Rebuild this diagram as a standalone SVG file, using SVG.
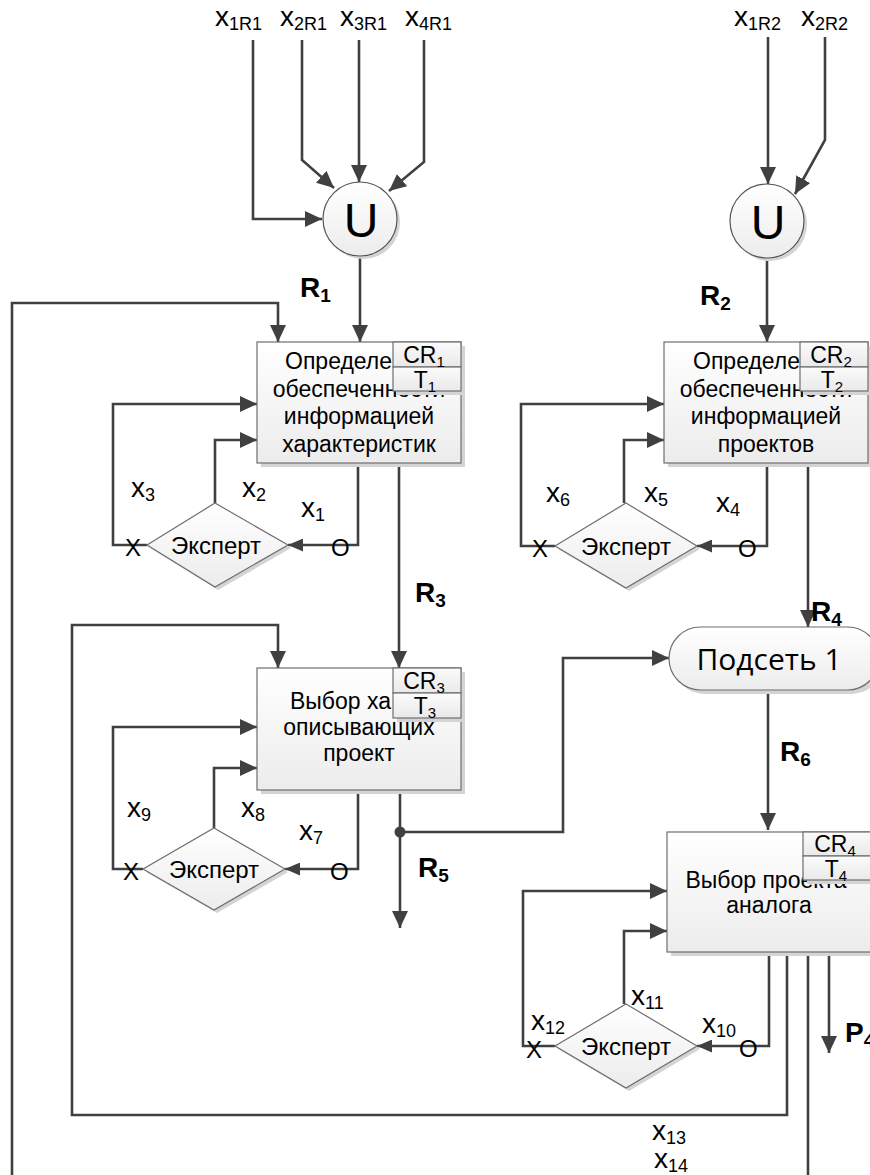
<svg xmlns="http://www.w3.org/2000/svg" width="870" height="1175" viewBox="0 0 870 1175">
<defs>
<linearGradient id="gBox" x1="0" y1="0" x2="0" y2="1"><stop offset="0" stop-color="#ffffff"/><stop offset="1" stop-color="#ececec"/></linearGradient>
<linearGradient id="gSub" x1="0" y1="0" x2="0" y2="1"><stop offset="0" stop-color="#fbfbfb"/><stop offset="1" stop-color="#e9e9e9"/></linearGradient>
<marker id="ar" markerUnits="userSpaceOnUse" markerWidth="17" markerHeight="16" refX="17" refY="8" orient="auto"><path d="M0,0 L17,8 L0,16 z" fill="#404040"/></marker>
<marker id="ars" markerUnits="userSpaceOnUse" markerWidth="15" markerHeight="13" refX="15" refY="6.5" orient="auto"><path d="M0,0 L15,6.5 L0,13 z" fill="#404040"/></marker>
</defs>
<style>
.ln{fill:none;stroke:#404040;stroke-width:2.6}
.box{fill:url(#gBox);stroke:#6e6e6e;stroke-width:1.2}
.sub{fill:url(#gSub);stroke:#6e6e6e;stroke-width:1.2}
.sh{fill:#d4d4d4}
.t{font-family:"Liberation Sans",Arial,sans-serif;fill:#000}
.bt{font-size:23px;text-anchor:middle}
.bs{font-size:23px}
.ex{font-size:24px;text-anchor:middle}
.lb{font-size:28px}
.rb{font-size:28px;font-weight:bold}
.cr{font-size:23px;text-anchor:middle}
.mk{font-size:24px}
.dia{fill:url(#gBox);stroke:#6e6e6e;stroke-width:1.2}
.cir{fill:url(#gBox);stroke:#555;stroke-width:1.2}
</style>
<rect width="870" height="1175" fill="#ffffff"/>

<g id="connectors">
<path class="ln" d="M253,40 V219 H322" marker-end="url(#ar)"/>
<path class="ln" d="M302,40 V160 L334,188" marker-end="url(#ar)"/>
<path class="ln" d="M359,40 V182" marker-end="url(#ar)"/>
<path class="ln" d="M424,40 V162 L389,191" marker-end="url(#ar)"/>
<path class="ln" d="M768,37 V184" marker-end="url(#ar)"/>
<path class="ln" d="M825,37 V140 L795,194" marker-end="url(#ar)"/>
<path class="ln" d="M360,256 V342" marker-end="url(#ar)"/>
<path class="ln" d="M767,258 V342" marker-end="url(#ar)"/>
<path class="ln" d="M147,545 H113 V404 H257" marker-end="url(#ar)"/>
<path class="ln" d="M215,503 V440 H257" marker-end="url(#ar)"/>
<path class="ln" d="M358,463 V545 H288" marker-end="url(#ars)"/>
<path class="ln" d="M399,463 V668" marker-end="url(#ar)"/>
<path class="ln" d="M555,546 H521 V404 H664" marker-end="url(#ar)"/>
<path class="ln" d="M624,503 V440 H664" marker-end="url(#ar)"/>
<path class="ln" d="M767,463 V546 H697" marker-end="url(#ars)"/>
<path class="ln" d="M808,463 V627" marker-end="url(#ar)"/>
<path class="ln" d="M143,869 H113 V727 H257" marker-end="url(#ar)"/>
<path class="ln" d="M214,828 V768 H257" marker-end="url(#ar)"/>
<path class="ln" d="M358,790 V869 H285" marker-end="url(#ars)"/>
<path class="ln" d="M400,790 V928" marker-end="url(#ar)"/>
<path class="ln" d="M400,832 H563 V658 H669" marker-end="url(#ar)"/>
<circle cx="400" cy="832" r="5.5" fill="#404040"/>
<path class="ln" d="M768,690 V830" marker-end="url(#ar)"/>
<path class="ln" d="M555,1046 H523 V891 H667" marker-end="url(#ar)"/>
<path class="ln" d="M624,1004 V931 H667" marker-end="url(#ar)"/>
<path class="ln" d="M769,952 V1046 H697" marker-end="url(#ars)"/>
<path class="ln" d="M829,952 V1053" marker-end="url(#ar)"/>
<path class="ln" d="M787,952 V1115 H72 V625 H278 V668" marker-end="url(#ar)"/>
<path class="ln" d="M808,952 V1190 H12 V303 H278 V342" marker-end="url(#ar)"/>
</g>

<g id="inputs" class="t lb">
<text x="215" y="26">x<tspan font-size="18" dy="4">1R1</tspan></text>
<text x="280" y="26">x<tspan font-size="18" dy="4">2R1</tspan></text>
<text x="340" y="26">x<tspan font-size="18" dy="4">3R1</tspan></text>
<text x="405" y="26">x<tspan font-size="18" dy="4">4R1</tspan></text>
<text x="734" y="26">x<tspan font-size="18" dy="4">1R2</tspan></text>
<text x="801" y="26">x<tspan font-size="18" dy="4">2R2</tspan></text>
</g>

<g id="union1">
<circle cx="363" cy="222" r="37" class="sh"/>
<circle cx="360" cy="219" r="37" class="cir"/>
<text x="361" y="237" class="t" font-size="48" text-anchor="middle">U</text>
</g>
<g id="union2">
<circle cx="770" cy="224" r="37" class="sh"/>
<circle cx="767" cy="221" r="37" class="cir"/>
<text x="768" y="239" class="t" font-size="48" text-anchor="middle">U</text>
</g>

<g id="box1">
<rect x="261" y="346" width="204" height="121" class="sh"/>
<rect x="257" y="342" width="204" height="121" class="box"/>
<text class="t bs" x="285" y="369">Определе</text>
<text class="t bt" x="359" y="397">обеспеченности</text>
<text class="t bt" x="359" y="424">информацией</text>
<text class="t bt" x="359" y="452">характеристик</text>
<rect x="397" y="346" width="68" height="49" class="sh"/>
<rect x="393" y="342" width="68" height="25" class="sub"/>
<rect x="393" y="367" width="68" height="24" class="sub"/>
<text class="t cr" x="424" y="363">CR<tspan font-size="15" dy="4">1</tspan></text>
<text class="t cr" x="425" y="388">T<tspan font-size="15" dy="4">1</tspan></text>
</g>

<g id="box2">
<rect x="668" y="346" width="204" height="121" class="sh"/>
<rect x="664" y="342" width="204" height="121" class="box"/>
<text class="t bs" x="693" y="369">Определе</text>
<text class="t bt" x="766" y="397">обеспеченности</text>
<text class="t bt" x="766" y="424">информацией</text>
<text class="t bt" x="766" y="452">проектов</text>
<rect x="804" y="346" width="68" height="49" class="sh"/>
<rect x="800" y="342" width="68" height="25" class="sub"/>
<rect x="800" y="367" width="68" height="24" class="sub"/>
<text class="t cr" x="831" y="363">CR<tspan font-size="15" dy="4">2</tspan></text>
<text class="t cr" x="832" y="388">T<tspan font-size="15" dy="4">2</tspan></text>
</g>

<g id="box3">
<rect x="261" y="672" width="204" height="122" class="sh"/>
<rect x="257" y="668" width="204" height="122" class="box"/>
<text class="t bs" x="290" y="709">Выбор ха</text>
<text class="t bt" x="359" y="735">описывающих</text>
<text class="t bt" x="359" y="761">проект</text>
<rect x="397" y="672" width="68" height="50" class="sh"/>
<rect x="393" y="668" width="68" height="25" class="sub"/>
<rect x="393" y="693" width="68" height="25" class="sub"/>
<text class="t cr" x="424" y="689">CR<tspan font-size="15" dy="4">3</tspan></text>
<text class="t cr" x="425" y="714">T<tspan font-size="15" dy="4">3</tspan></text>
</g>

<g id="box4">
<rect x="671" y="836" width="204" height="120" class="sh"/>
<rect x="667" y="832" width="204" height="120" class="box"/>
<text class="t bt" x="766" y="888">Выбор проекта</text>
<text class="t bt" x="769" y="913">аналога</text>
<rect x="807" y="836" width="68" height="48" class="sh"/>
<rect x="803" y="832" width="68" height="24" class="sub"/>
<rect x="803" y="856" width="68" height="24" class="sub"/>
<text class="t cr" x="835" y="852">CR<tspan font-size="15" dy="4">4</tspan></text>
<text class="t cr" x="836" y="877">T<tspan font-size="15" dy="4">4</tspan></text>
</g>

<g id="subnet1">
<rect x="673" y="631" width="210" height="63" rx="31.5" class="sh"/>
<rect x="669" y="627" width="210" height="63" rx="31.5" class="box"/>
<text x="769" y="670" font-family="'Open Sans',sans-serif" font-size="30" text-anchor="middle">Подсеть 1</text>
</g>

<g id="expert1">
<path d="M218,506 L291,548 L218,590 L150,548 z" class="sh"/>
<path d="M215,503 L288,545 L215,587 L147,545 z" class="dia"/>
<text class="t ex" x="216" y="554">Эксперт</text>
</g>
<g id="expert2">
<path d="M629,506 L700,549 L629,591 L558,549 z" class="sh"/>
<path d="M626,503 L697,546 L626,588 L555,546 z" class="dia"/>
<text class="t ex" x="626" y="555">Эксперт</text>
</g>
<g id="expert3">
<path d="M217,831 L288,872 L217,913 L146,872 z" class="sh"/>
<path d="M214,828 L285,869 L214,910 L143,869 z" class="dia"/>
<text class="t ex" x="214" y="878">Эксперт</text>
</g>
<g id="expert4">
<path d="M629,1007 L700,1049 L629,1091 L558,1049 z" class="sh"/>
<path d="M626,1004 L697,1046 L626,1088 L555,1046 z" class="dia"/>
<text class="t ex" x="626" y="1055">Эксперт</text>
</g>

<g id="labels" class="t">
<text class="lb" x="131" y="497">x<tspan font-size="18" dy="4">3</tspan></text>
<text class="lb" x="242" y="497">x<tspan font-size="18" dy="4">2</tspan></text>
<text class="lb" x="301" y="517">x<tspan font-size="18" dy="4">1</tspan></text>
<text class="mk" x="125" y="556">X</text>
<text class="mk" x="331" y="556">O</text>
<text class="lb" x="546" y="502">x<tspan font-size="18" dy="4">6</tspan></text>
<text class="lb" x="644" y="502">x<tspan font-size="18" dy="4">5</tspan></text>
<text class="lb" x="716" y="512">x<tspan font-size="18" dy="4">4</tspan></text>
<text class="mk" x="532" y="557">X</text>
<text class="mk" x="738" y="557">O</text>
<text class="lb" x="127" y="817">x<tspan font-size="18" dy="4">9</tspan></text>
<text class="lb" x="241" y="817">x<tspan font-size="18" dy="4">8</tspan></text>
<text class="lb" x="299" y="840">x<tspan font-size="18" dy="4">7</tspan></text>
<text class="mk" x="123" y="880">X</text>
<text class="mk" x="330" y="880">O</text>
<text class="lb" x="531" y="1030">x<tspan font-size="18" dy="4">12</tspan></text>
<text class="lb" x="631" y="1005">x<tspan font-size="18" dy="4">11</tspan></text>
<text class="lb" x="702" y="1033">x<tspan font-size="18" dy="4">10</tspan></text>
<text class="mk" x="526" y="1058">X</text>
<text class="mk" x="739" y="1057">O</text>
<text class="lb" x="652" y="1140">x<tspan font-size="18" dy="4">13</tspan></text>
<text class="lb" x="654" y="1168">x<tspan font-size="18" dy="4">14</tspan></text>
<text class="rb" x="300" y="297">R<tspan font-size="19" dy="5">1</tspan></text>
<text class="rb" x="700" y="305">R<tspan font-size="19" dy="5">2</tspan></text>
<text class="rb" x="415" y="602">R<tspan font-size="19" dy="5">3</tspan></text>
<text class="rb" x="811" y="621">R<tspan font-size="19" dy="5">4</tspan></text>
<text class="rb" x="418" y="877">R<tspan font-size="19" dy="5">5</tspan></text>
<text class="rb" x="780" y="761">R<tspan font-size="19" dy="5">6</tspan></text>
<text class="rb" x="845" y="1042">P<tspan font-size="19" dy="5">4</tspan></text>
</g>
</svg>
